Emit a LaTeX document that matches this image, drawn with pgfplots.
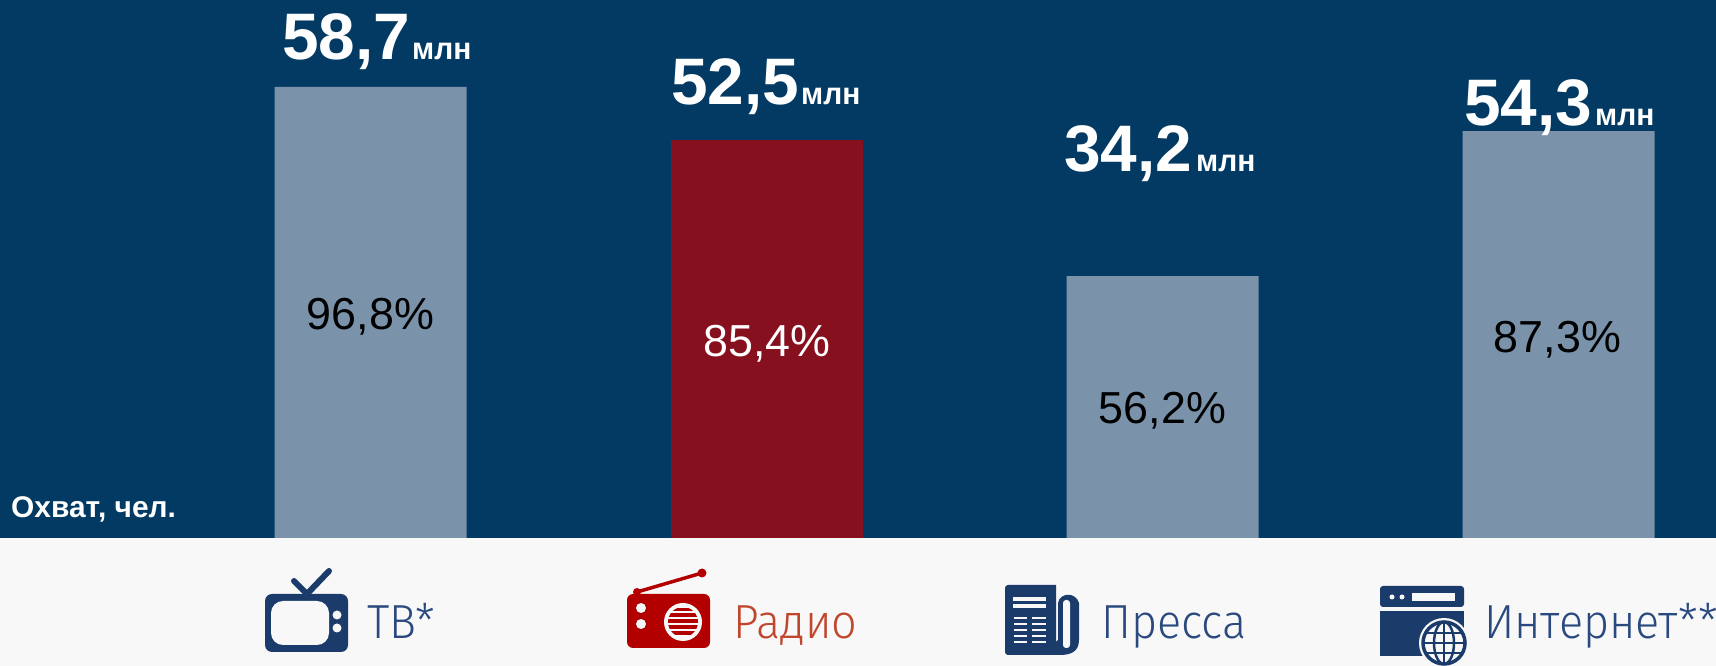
\documentclass[border=0pt]{standalone}
\usepackage{pgfplots}
\pgfplotsset{compat=1.18}
\usepackage{fontspec}
\setmainfont{Liberation Sans}
\newfontfamily\lightf{Fira Sans Light}
\definecolor{navy}{HTML}{023A63}
\definecolor{bargrey}{HTML}{7A93AA}
\definecolor{barred}{HTML}{87101E}
\definecolor{paper}{HTML}{F8F8F8}
\definecolor{iconblue}{HTML}{1B3C6B}
\definecolor{iconred}{HTML}{B20000}
\definecolor{txtblue}{HTML}{2A4A7F}
\definecolor{txtred}{HTML}{C0462E}
\newcommand{\fs}[1]{\fontsize{#1}{#1}\selectfont}
\begin{document}
\begin{tikzpicture}[x=1bp,y=1bp]
\useasboundingbox (0,0) rectangle (1716,666);
\clip (0,0) rectangle (1716,666);
\fill[paper] (0,0) rectangle (1716,666);
\fill[navy] (0,128) rectangle (1716,666);
\begin{axis}[
  at={(0,0)},anchor=south west,
  scale only axis,width=1716bp,height=666bp,
  xmin=-0.9356,xmax=3.3977,ymin=-27.47,ymax=115.45,
  hide axis,ybar,bar width=192bp,bar shift=0pt,clip=false]
\addplot[draw=none,fill=bargrey] coordinates {(0,96.8) (2,56.2) (3,87.3)};
\addplot[draw=none,fill=barred] coordinates {(1,85.4)};
\end{axis}
\begin{scope}[shift={(0,666)},y=-1bp,x=1bp]
\tikzset{big/.style={anchor=base west,inner sep=0pt,text=white,font=\fs{66}\bfseries},
 mln/.style={anchor=base west,inner sep=0pt,text=white,font=\fs{31}\bfseries,xscale=.97,transform shape},
 pct/.style={anchor=center,inner sep=0pt,font=\fs{45}},
 leg/.style={anchor=base west,inner sep=0pt,font=\fs{48}\lightf,xscale=.94,transform shape}}
\node[big] at (282,60) {58,7};\node[mln] at (412,60) {млн};
\node[big] at (671,105) {52,5};\node[mln] at (801,105) {млн};
\node[big] at (1064,172) {34,2};\node[mln] at (1196,172) {млн};
\node[big] at (1464,126) {54,3};\node[mln] at (1595,126) {млн};
\node[pct,text=black] at (370.5,317) {96,8\%};
\node[pct,text=white] at (767,344) {85,4\%};
\node[pct,text=black] at (1162.5,411) {56,2\%};
\node[pct,text=black] at (1557.5,340) {87,3\%};
\node[anchor=base west,inner sep=0pt,text=white,font=\fs{30}\bfseries] at (11,518) {Охват, чел.};
\node[leg,text=txtblue] at (367,639) {ТВ*};
\node[leg,text=txtred] at (733,639) {Радио};
\node[leg,text=txtblue] at (1101,639) {Пресса};
\node[leg,text=txtblue] at (1484,639) {Интернет**};
% TV icon
\draw[iconblue,line width=6bp,line cap=round] (294,581)--(307,594)--(329,571);
\fill[iconblue,rounded corners=7bp] (265,594) rectangle (348,652);
\fill[paper,rounded corners=12bp] (271,601) rectangle (329,645);
\fill[paper] (337,615) circle (4.5) (337,628) circle (4.5);
% Radio icon
\draw[iconred,line width=3.5bp] (637,592)--(702,573);
\fill[iconred] (702,573) circle (4.5) (637,592) circle (4);
\fill[iconred,rounded corners=6bp] (627,594) rectangle (710,648);
\fill[paper] (641,608) circle (5) (641,624) circle (5) (683,622) circle (19);
\begin{scope}
\clip (683,622) circle (15);
\foreach \yy in {609.5,615,621,627,633}{\fill[iconred] (665,\yy-1.6) rectangle (700,\yy+1.6);}
\end{scope}
% Press icon
\fill[iconblue] (1005,585)--(1056,585)--(1056,655)--(1012,655)[rounded corners=3bp]--(1005,655)--cycle;
\fill[iconblue] (1058,603) .. controls (1060,592) and (1076,592) .. (1079,603) -- (1079,640) .. controls (1079,652) and (1070,655) .. (1060,655) -- (1040,655) -- (1058,640) -- cycle;
\fill[paper,rounded corners=3bp] (1063,600) rectangle (1070,648);
\foreach \yy in {599,606}{\fill[paper] (1012.5,\yy-1.6) rectangle (1046,\yy+1.6);}
\foreach \yy in {618,624,630,636,642}{\fill[paper] (1013.5,\yy-1.4) rectangle (1027,\yy+1.4);\fill[paper] (1032,\yy-1.4) rectangle (1046,\yy+1.4);}
% Internet icon
\fill[iconblue,rounded corners=3bp] (1380,586) rectangle (1464,607);
\fill[iconblue] (1380,611) rectangle (1464,656);
\fill[paper] (1392,597) circle (2.5) (1402,597) circle (2.5);
\fill[paper] (1412,593) rectangle (1455,601);
\fill[paper] (1444,643) circle (25);
\draw[iconblue,line width=3.5bp] (1444,643) circle (21);
\draw[iconblue,line width=2.5bp] (1444,643) ellipse (10 and 21);
\draw[iconblue,line width=2.5bp] (1444,622)--(1444,664) (1423,643)--(1465,643) (1427,633)--(1461,633) (1427,653)--(1461,653);
\end{scope}
\end{tikzpicture}
\end{document}
